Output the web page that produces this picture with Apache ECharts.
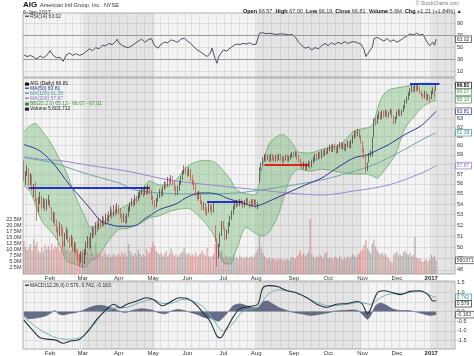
<!DOCTYPE html>
<html><head><meta charset="utf-8">
<script src="https://cdn.jsdelivr.net/npm/echarts@6/dist/echarts.min.js"></script>
<style>html,body{margin:0;padding:0;background:#fff}#c{width:474px;height:356px}</style>
</head><body><div id="c"></div>
<script>
// ---------------- DATA ----------------
const holidays = ['2016-01-18','2016-02-15','2016-03-25','2016-05-30','2016-07-04','2016-09-05','2016-11-24','2016-12-26','2017-01-02','2017-01-16'];
const monthNames = ['Jan','Feb','Mar','Apr','May','Jun','Jul','Aug','Sep','Oct','Nov','Dec'];
// daily candles [open, close, low, high], 2016-01-07 .. 2017-01-06
const candles = [
// Jan
[58.2,56.5,56.3,58.4],[56.4,57.0,55.9,57.3],[57.1,57.5,56.8,57.9],[57.4,56.2,55.8,57.6],[56.3,56.8,55.9,57.1],[56.6,55.7,55.3,56.9],
[55.2,55.6,54.7,56.0],[55.8,54.6,54.2,56.2],[54.2,53.5,52.4,54.6],[53.6,54.1,53.2,54.7],[54.4,54.7,54.0,55.2],[54.5,53.8,53.5,54.8],
[53.9,54.3,53.6,54.6],[54.2,53.6,53.3,54.5],[53.7,54.2,53.4,54.5],[54.3,54.5,53.9,54.9],
// Feb
[54.3,53.9,53.6,54.4],[53.6,52.6,52.4,53.7],[52.7,53.0,52.2,53.3],[53.0,52.3,51.9,53.2],[52.2,51.6,51.3,52.5],
[51.5,51.1,50.6,51.9],[51.3,51.9,51.0,52.3],[51.9,51.5,51.0,52.1],[51.6,50.3,50.0,51.8],[50.4,50.9,50.1,51.3],
[51.0,51.5,50.7,51.8],[51.4,50.6,50.4,51.6],[50.5,50.2,49.9,50.9],[50.3,50.8,50.0,51.1],[50.7,49.9,49.6,50.9],
[49.8,50.3,49.5,50.5],[50.2,49.6,49.3,50.4],[49.5,49.0,48.7,49.8],[49.1,48.7,48.3,49.4],[48.8,49.4,48.6,49.6],
// Mar
[49.3,48.6,48.2,49.5],[48.7,49.5,48.5,49.8],[49.6,50.2,49.3,50.5],[50.1,50.7,49.9,51.0],[50.6,50.0,49.8,50.9],
[50.1,51.0,49.9,51.3],[51.1,51.6,50.8,51.9],[51.5,51.2,50.9,51.8],[51.3,52.0,51.1,52.3],[52.1,51.7,51.4,52.4],
[51.8,52.4,51.6,52.7],[52.3,52.0,51.7,52.6],[52.1,52.6,51.9,52.9],[52.5,52.2,51.9,52.8],[52.3,52.8,52.0,53.1],
[52.7,52.5,52.2,53.0],[52.6,53.0,52.3,53.3],[53.1,53.4,52.8,53.8],[53.3,52.9,52.6,53.5],[53.0,53.6,52.8,53.9],
[53.5,53.2,52.9,53.8],[53.3,53.8,53.1,54.1],
// Apr
[53.6,53.5,53.0,53.9],[53.4,53.0,52.7,53.6],[52.9,52.5,52.2,53.1],[52.6,52.8,52.3,53.1],[52.7,52.3,52.1,52.9],
[52.4,52.9,52.2,53.1],[53.0,53.5,52.8,53.8],[53.6,53.9,53.3,54.2],[54.0,54.3,53.8,54.6],[54.3,54.0,53.7,54.5],
[54.1,54.6,53.9,54.9],[54.5,54.4,54.1,54.8],[54.5,54.9,54.3,55.2],[54.9,55.1,54.6,55.4],[55.2,55.4,54.9,55.7],
[55.3,55.0,54.7,55.5],[55.1,55.5,54.9,55.8],[55.4,55.2,54.9,55.6],[55.3,55.6,55.0,55.9],[55.5,55.3,55.0,55.8],
[55.2,54.6,54.4,55.4],
// May
[54.5,54.2,53.9,54.8],[54.1,53.8,53.5,54.4],[53.9,54.3,53.7,54.6],[54.4,54.8,54.2,55.0],[54.8,55.2,54.6,55.5],
[55.3,54.9,54.7,55.5],[55.0,55.6,54.8,55.8],[55.6,56.0,55.4,56.3],[56.0,55.8,55.5,56.2],[55.9,56.4,55.7,56.7],
[56.3,56.1,55.8,56.6],[56.2,56.6,56.0,56.9],[56.6,56.2,55.9,56.8],[56.1,55.6,55.3,56.3],[55.6,55.1,54.8,55.8],
[55.2,55.5,54.9,55.8],[55.5,56.0,55.3,56.3],[56.1,56.6,55.9,56.8],[56.6,57.2,56.4,57.4],[57.2,57.6,57.0,57.9],
[57.6,57.3,57.0,57.8],
// Jun
[57.2,57.0,56.7,57.5],[57.0,57.5,56.8,57.7],[57.4,56.6,56.3,57.5],[56.7,56.1,55.9,56.9],[56.2,55.7,55.4,56.4],
[55.8,55.0,54.8,56.0],[55.0,54.6,54.3,55.2],[54.7,55.0,54.5,55.3],[54.9,54.2,54.0,55.1],[54.2,53.7,53.4,54.4],
[53.8,53.9,53.4,54.2],[53.9,53.3,53.0,54.1],[53.4,53.3,52.9,53.7],[53.5,53.8,53.2,54.1],[53.8,53.6,53.3,54.0],
[53.7,53.2,53.0,53.9],[53.4,53.9,53.2,54.1],[51.5,50.9,50.4,52.0],[50.6,48.9,48.3,50.8],[49.3,50.0,49.0,50.3],
[50.3,51.0,50.0,51.3],[51.2,52.2,51.0,52.4],
// Jul
[52.1,52.0,51.6,52.4],[51.6,50.9,50.6,51.8],[51.0,51.3,50.7,51.6],[51.4,52.0,51.2,52.3],[52.1,52.6,51.9,52.9],
[52.7,53.2,52.5,53.4],[53.2,53.7,53.0,53.9],[53.8,53.9,53.5,54.2],[53.9,54.2,53.7,54.4],[54.2,54.0,53.8,54.4],
[54.0,54.3,53.8,54.5],[54.3,54.1,53.9,54.5],[54.1,53.8,53.6,54.3],[53.9,54.2,53.7,54.4],[54.2,54.4,54.0,54.6],
[54.4,54.1,53.9,54.6],[54.1,53.9,53.6,54.3],[54.0,54.3,53.8,54.5],[54.3,54.0,53.8,54.5],[54.1,54.3,53.9,54.5],
// Aug
[54.2,53.8,53.6,54.4],[53.8,53.9,53.5,54.2],[56.3,57.5,56.2,57.7],[57.6,57.9,57.3,58.2],[58.0,58.5,57.8,58.8],
[58.6,58.9,58.3,59.1],[58.9,58.6,58.3,59.1],[58.6,58.8,58.4,59.0],[58.8,58.5,58.2,59.0],[58.5,58.9,58.3,59.1],
[58.9,58.7,58.4,59.1],[58.7,58.5,58.2,58.9],[58.5,58.8,58.3,59.0],[58.8,58.6,58.3,59.0],[58.6,58.9,58.4,59.1],
[58.9,58.7,58.4,59.1],[58.7,58.4,58.1,58.9],[58.4,58.6,58.2,58.8],[58.6,58.8,58.4,59.0],[58.8,58.5,58.3,59.0],
[58.5,58.7,58.3,58.9],[58.7,58.9,58.5,59.1],[58.9,59.1,58.7,59.3],
// Sep
[59.1,59.0,58.7,59.3],[59.0,59.2,58.8,59.4],[59.2,58.7,58.5,59.3],[58.8,58.4,58.2,59.0],[58.4,58.0,57.7,58.6],
[58.0,57.8,57.5,58.2],[57.8,58.1,57.5,58.3],[58.1,57.6,57.4,58.2],[57.6,57.9,57.4,58.1],[57.9,58.2,57.7,58.4],
[58.2,57.8,57.5,58.3],[57.9,58.3,57.7,58.5],[58.3,58.5,58.1,58.8],[58.5,58.9,58.3,59.1],[58.9,58.6,58.4,59.1],
[58.7,59.1,58.5,59.3],[59.1,58.8,58.6,59.3],[58.8,59.3,58.6,59.5],[59.3,59.0,58.8,59.5],[59.0,59.4,58.9,59.6],
[59.4,59.3,59.0,59.6],
// Oct
[59.3,59.6,59.1,59.8],[59.6,59.9,59.4,60.1],[59.9,59.5,59.3,60.1],[59.5,60.0,59.3,60.2],[60.0,59.7,59.5,60.2],
[59.7,59.4,59.1,59.9],[59.4,59.9,59.2,60.1],[59.9,60.2,59.7,60.4],[60.2,59.8,59.6,60.3],[59.8,60.1,59.6,60.3],
[60.1,59.6,59.4,60.2],[59.6,60.0,59.4,60.2],[60.0,60.3,59.8,60.5],[60.3,59.9,59.7,60.4],[59.9,60.4,59.7,60.6],
[60.4,60.9,60.2,61.1],[60.9,61.4,60.7,61.6],[61.4,61.2,60.9,61.6],[61.2,61.6,61.0,61.8],[61.6,61.0,60.8,61.7],
[61.0,60.4,60.2,61.1],
// Nov
[60.4,59.5,59.2,60.5],[59.5,58.9,58.6,59.7],[59.0,57.5,57.1,59.1],[57.6,57.9,57.3,58.2],[58.4,59.0,58.2,59.2],
[59.0,59.3,58.8,59.5],[59.4,60.6,58.8,60.9],[61.0,62.8,60.9,63.0],[62.8,62.6,62.2,63.1],[62.6,63.2,62.4,63.4],
[63.2,63.5,62.9,63.8],[63.5,63.1,62.8,63.7],[63.1,63.7,62.9,63.9],[63.7,63.4,63.1,63.9],[63.4,63.8,63.2,64.0],
[63.8,63.3,63.0,63.9],[63.3,63.6,63.1,63.8],[63.6,63.9,63.4,64.1],[63.9,63.2,63.0,64.0],[63.2,62.6,62.3,63.3],
[62.6,63.0,62.4,63.2],
// Dec
[63.1,63.5,62.9,63.8],[63.5,63.9,63.3,64.1],[63.9,63.4,63.2,64.0],[63.5,63.8,63.3,64.0],[63.9,64.3,63.7,64.5],
[64.3,64.9,64.1,65.1],[64.9,65.3,64.7,65.5],[65.3,65.8,65.1,66.0],[65.8,66.2,65.6,66.5],[66.2,66.6,66.0,66.9],
[66.6,66.3,66.0,66.8],[66.3,66.8,66.1,67.0],[66.8,66.4,66.1,66.9],[66.4,66.6,66.2,66.9],[66.6,66.0,65.8,66.7],
[66.0,65.8,65.5,66.2],[65.8,65.5,65.2,65.9],[65.5,66.0,65.3,66.2],[66.0,65.3,65.0,66.1],[65.3,65.6,65.1,65.8],
[65.6,65.3,64.8,65.7],
// Jan 2017
[65.7,65.9,65.2,66.2],[66.0,66.3,65.8,66.6],[66.2,65.6,65.4,66.3],[66.57,66.81,66.19,67.00]
];
// daily volume, millions
const volume = [
13.5,11.2,9.8,10.5,12.3,9.6,14.2,11.8,13.1,9.4,8.7,10.9,9.3,12.0,10.2,11.5,
9.8,12.4,10.1,11.6,10.8,12.9,9.5,11.3,13.6,12.1,9.9,10.4,8.9,9.7,11.2,8.4,10.6,9.2,8.1,9.5,
10.3,9.1,8.6,9.8,8.2,11.4,9.0,7.8,12.6,8.5,7.9,8.8,7.4,9.6,8.1,7.2,8.4,6.9,7.7,8.6,7.1,7.8,
8.3,7.5,9.2,7.9,8.8,7.2,12.2,9.4,8.1,7.3,8.6,7.6,9.9,8.4,7.0,8.2,7.4,10.1,8.3,9.0,11.0,
13.2,11.6,9.4,8.5,7.9,8.8,7.6,8.3,9.5,7.2,8.0,10.4,8.7,7.4,8.1,7.0,7.8,8.6,9.2,10.8,8.4,
7.9,8.6,7.3,8.1,7.5,8.9,7.2,7.8,8.4,9.6,8.2,7.6,10.9,7.4,6.8,7.5,8.3,12.4,11.5,9.2,8.6,9.8,
6.9,7.8,7.2,6.6,7.4,6.8,7.9,6.5,7.1,6.3,7.6,6.7,7.0,6.4,7.3,6.6,6.9,7.5,6.8,7.7,
8.9,10.4,16.1,11.2,8.6,7.4,6.8,6.2,6.9,5.8,6.5,6.1,5.6,6.3,5.9,6.6,5.4,6.0,5.7,6.2,5.5,6.4,7.1,
6.8,6.2,7.4,8.3,9.6,7.8,8.5,7.3,8.1,9.2,22.5,8.0,7.1,6.6,7.5,6.9,7.8,7.2,6.5,8.4,9.1,
6.3,7.0,6.6,5.9,7.2,6.8,6.1,7.4,6.5,5.8,6.9,6.2,7.6,6.4,7.1,8.2,7.5,6.8,7.9,8.6,9.3,
10.2,11.8,13.9,10.5,9.6,8.4,12.6,14.1,11.3,9.7,8.6,7.9,8.8,7.5,8.2,7.1,6.6,5.2,4.8,7.9,8.5,
9.1,7.6,8.2,7.4,8.9,9.6,8.3,7.8,8.6,7.2,7.9,15.2,6.8,6.1,6.5,5.4,4.9,5.6,6.2,5.1,5.8,
7.8,6.9,7.4,5.6
];
// indicator readings: [trading-day index, value]
const ma50 = [[0,60.1],[9,59.5],[17,58.3],[28,55.9],[35,54.6],[41,53.5],[47,52.4],[52,52.1],[58,51.9],[64,51.9],[69,52.0],[73,52.5],[78,53.0],[83,53.5],[89,53.8],[94,54.1],[100,54.7],[108,55.1],[114,55.1],[120,54.9],[124,54.6],[134,54.1],[141,53.8],[150,54.3],[161,55.1],[172,55.9],[182,56.6],[192,57.7],[202,58.7],[210,59.0],[216,59.5],[223,60.1],[233,61.2],[243,62.2],[252,63.81]];
const ma100 = [[0,58.7],[17,58.2],[37,57.1],[58,56.1],[68,55.4],[83,55.1],[100,55.0],[114,55.0],[130,55.1],[141,55.3],[161,55.8],[182,56.4],[202,57.3],[213,57.9],[223,58.7],[233,59.6],[243,60.6],[252,61.39]];
const ma200 = [[0,58.8],[12,58.5],[22,58.4],[40,57.9],[63,57.3],[89,56.4],[114,55.9],[144,55.4],[161,55.1],[182,54.9],[202,55.3],[223,55.9],[243,57.1],[252,57.87]];
const bbIdx   = [0,4,7,11,16,21,26,31,37,41,45,50,53,58,63,68,73,77,83,89,94,100,106,112,117,122,126,130,136,141,146,150,155,158,163,168,175,182,193,202,209,213,216,219,223,227,233,239,243,246,252];
const bbUpper = [61.5,62.2,62.4,61.6,60.4,58.8,57.2,55.0,52.9,51.8,52.0,52.5,53.0,53.5,53.9,54.4,55.6,56.3,55.9,55.9,56.6,57.8,58.3,58.4,58.2,57.3,56.5,55.4,55.0,54.9,58.0,60.2,61.0,61.2,60.5,59.3,59.2,59.6,60.1,61.6,61.9,62.2,64.0,65.5,66.3,66.5,66.7,67.0,67.1,67.1,67.01];
const bbLower = [55.8,55.2,54.0,52.4,51.5,50.5,48.8,48.5,48.2,48.8,49.1,50.2,50.8,51.6,51.7,52.0,52.3,52.7,52.9,53.3,53.5,53.6,53.0,52.0,50.8,48.6,48.5,49.8,51.8,51.3,51.0,51.4,52.8,54.2,56.7,57.5,57.3,57.5,57.2,57.0,57.0,56.8,56.6,57.1,58.0,59.0,61.9,63.3,64.2,64.6,65.13];
const rsi = [[0,37],[2,34],[4,36],[6,33],[8,30],[10,35],[12,32],[14,36],[16,44],[18,36],[20,32],[22,33],[24,26],[26,37],[28,40],[30,36],[32,39],[34,36],[36,38],[38,42],[40,47],[42,44],[44,49],[46,47],[48,53],[50,52],[52,56],[54,54],[56,59],[57,63],[58,57],[60,53],[62,50],[64,49],[66,52],[68,56],[70,60],[72,63],[74,58],[76,62],[78,64],[80,52],[82,48],[84,55],[86,58],[88,57],[90,62],[92,60],[94,58],[96,63],[98,65],[100,60],[102,56],[104,50],[106,45],[108,42],[110,38],[112,34],[114,40],[115,48],[117,30],[118,23],[119,33],[120,38],[122,45],[124,43],[126,48],[128,52],[130,55],[132,54],[134,56],[136,55],[138,57],[140,54],[142,55],[144,73],[146,74],[148,72],[150,73],[154,71],[158,72],[162,70],[164,71],[166,66],[168,58],[170,52],[172,48],[174,50],[176,45],[178,49],[180,47],[182,52],[184,56],[186,52],[188,57],[190,54],[192,58],[194,55],[196,59],[198,56],[200,58],[202,59],[204,57],[206,55],[208,45],[209,34],[211,42],[213,50],[214,64],[216,66],[218,63],[220,60],[222,64],[224,59],[226,62],[228,58],[230,61],[232,65],[234,68],[236,72],[238,70],[240,73],[242,70],[244,71],[246,60],[248,52],[249,55],[250,58],[251,53],[252,63.02]];
const macd = [[0,-0.45],[6,-1.03],[10,-1.37],[16,-1.45],[20,-1.5],[24,-1.65],[28,-1.55],[34,-1.45],[39,-1.03],[45,-0.37],[51,0.15],[55,0.38],[59,0.2],[63,0.38],[69,0.55],[75,0.72],[79,0.63],[85,0.3],[89,0.47],[95,0.72],[100,0.68],[106,0.3],[110,-0.12],[114,-0.53],[118,-1.28],[120,-1.37],[124,-0.87],[128,-0.28],[132,0.15],[138,0.27],[143,0.38],[146,1.22],[150,1.35],[155,1.3],[161,1.08],[167,0.97],[173,0.72],[179,0.38],[185,0.22],[191,0.38],[198,0.42],[204,0.52],[207,0.38],[210,-0.12],[212,0.15],[216,0.97],[220,1.08],[226,0.97],[230,0.88],[236,1.05],[242,1.08],[247,0.88],[250,0.55],[252,0.579]];
const signal = [[0,-0.3],[10,-0.95],[20,-1.37],[28,-1.45],[36,-1.3],[42,-0.78],[48,-0.12],[55,0.18],[63,0.22],[71,0.47],[79,0.63],[85,0.42],[91,0.45],[97,0.63],[103,0.55],[110,0.22],[116,-0.45],[122,-1.03],[128,-0.6],[134,0.02],[143,0.22],[149,0.88],[155,1.13],[163,1.05],[171,0.8],[179,0.47],[187,0.3],[198,0.38],[205,0.47],[212,0.38],[218,0.72],[224,0.92],[232,0.95],[242,1.05],[250,0.78],[252,0.742]];
const hist = [[0,-0.2],[3,-0.38],[6,-0.35],[10,-0.3],[14,-0.2],[17,-0.05],[19,0.05],[21,-0.1],[24,-0.18],[28,-0.1],[32,-0.05],[36,0.05],[40,0.2],[44,0.3],[48,0.32],[51,0.25],[55,0.15],[59,0.0],[62,-0.05],[66,0.05],[72,0.15],[78,0.08],[83,-0.08],[86,-0.12],[90,0.02],[94,0.1],[98,0.05],[102,-0.05],[106,-0.15],[110,-0.3],[114,-0.35],[117,-0.45],[119,-0.5],[122,-0.3],[125,0.0],[128,0.3],[132,0.4],[136,0.3],[140,0.2],[143,0.2],[146,0.5],[149,0.55],[152,0.4],[156,0.2],[161,0.05],[165,-0.05],[170,-0.12],[175,-0.2],[180,-0.15],[185,-0.08],[190,0.02],[195,0.05],[200,0.08],[204,0.05],[207,-0.15],[210,-0.4],[212,-0.2],[215,0.3],[218,0.45],[221,0.35],[225,0.15],[230,0.05],[235,0.05],[240,-0.03],[244,-0.12],[248,-0.2],[252,-0.163]];
// trend lines drawn on chart: [startIndex, endIndex, price, color]
const trendLines = [[3,77,55.6,'#2332c8'],[112,134,54.2,'#2332c8'],[147,174,58.0,'#e02020'],[236,254,67.0,'#2332c8']];
// shaded background periods (index ranges)
const shadeBands = [[36,80],[142,206],[249,263]];
// axis tick values
const priceTicks = [48,49,50,51,52,53,54,55,56,57,58,59,60,61,62,63,64,65,66,67];
const priceLabels = [48,49,50,51,52,53,54,55,56,57,59,60,61,62,63];
const rsiTicks = [10,30,50,70,90];
const macdTicks = [-1.5,-1,-0.5,0,0.5,1,1.5];
// value tags on right axis: [axisIndex, value, text, color]
const tagList = [
 [0,63.02,'63.02','#333333'],
 [1,66.81,'66.81','#000000'],[1,66.07,'66.07','#4f8f4f'],[1,65.13,'65.13','#4f8f4f'],
 [1,63.81,'63.81','#28348f'],[1,61.39,'61.39','#3f8f8f'],[1,57.87,'57.87','#8b72c5'],
 [2,5.603712,'5603712','#333333'],
 [3,0.742,'0.742','#3f8f8f'],[3,0.579,'0.579','#222222'],[3,-0.163,'-0.163','#333333']
];

// ---------------- BUILD ----------------
const categories = [];
(function(){
  let d = Date.UTC(2016,0,7); const end = Date.UTC(2017,0,24);
  while (d <= end) {
    const dt = new Date(d), wd = dt.getUTCDay(), s = dt.toISOString().slice(0,10);
    if (wd!==0 && wd!==6 && holidays.indexOf(s)<0) categories.push(s);
    d += 86400000;
  }
})();
const wdOf = s => new Date(s+'T00:00:00Z').getUTCDay();
const monthStart = categories.map((s,i)=> i>0 && s.slice(5,7)!==categories[i-1].slice(5,7));
const weekStart = categories.map((s,i)=> i>0 && wdOf(s) < wdOf(categories[i-1]));
const L = v => Math.log10(v);
const FONT = 'Liberation Sans, Arial, sans-serif';

const G = {left:23, right:19};
const grids = [
  {left:G.left, right:G.right, top:13, height:64},
  {left:G.left, right:G.right, top:78, height:196},
  {left:G.left, right:G.right, top:213, height:61},
  {left:G.left, right:G.right, top:281, height:68}
].map((g,k)=>Object.assign({show:k!==2, backgroundColor:'#f3f3f3', borderColor:'#9a9a9a', borderWidth:0.8, outerBoundsMode:'none', containLabel:false}, g));

function xAxis(k, labels){
  return {type:'category', gridIndex:k, data:categories, boundaryGap:true,
    axisLine:{show:false}, axisTick:{show:false},
    axisLabel:{show:labels, interval:(i)=>monthStart[i], margin:1.5, fontSize:6, fontFamily:FONT, color:'#333',
      formatter:(v)=>{const m=+v.slice(5,7)-1; return m===0?'{y|'+v.slice(0,4)+'}':monthNames[m];},
      rich:{y:{fontWeight:'bold', fontSize:6, fontFamily:FONT, color:'#222'}}},
    splitLine:{show:k!==2, interval:(i)=>weekStart[i], lineStyle:{color:'#d2d2d2', width:0.6}}};
}
const ySplit = {show:true, lineStyle:{color:'#cdcdcd', width:0.6}};
const yLabel = {fontSize:5.5, fontFamily:FONT, color:'#333', margin:2};

const option = {
  animation:false,
  backgroundColor:'#ffffff',
  grid: grids,
  xAxis:[xAxis(0,false), xAxis(1,true), xAxis(2,false), xAxis(3,true)],
  yAxis:[
    {type:'value', gridIndex:0, position:'right', min:0, max:106.7, axisLine:{show:false},
     axisTick:{show:false, customValues:rsiTicks}, axisLabel:Object.assign({customValues:rsiTicks}, yLabel), splitLine:ySplit},
    {type:'value', gridIndex:1, position:'right', min:L(47.64), max:L(67.73), axisLine:{show:false},
     axisTick:{show:false, customValues:priceTicks.map(L)},
     axisLabel:Object.assign({customValues:priceLabels.map(L), formatter:(v)=>String(Math.round(Math.pow(10,v)))}, yLabel), splitLine:ySplit},
    {type:'value', gridIndex:2, position:'left', min:0, max:25, interval:2.5, axisLine:{show:false}, axisTick:{show:false},
     axisLabel:{fontSize:5.5, fontFamily:FONT, color:'#333', margin:1.5, formatter:(v)=>(v===0||v===25)?'':v.toFixed(1)+'M'}, splitLine:{show:false}},
    {type:'value', gridIndex:3, position:'right', min:-1.95, max:1.59, axisLine:{show:false},
     axisTick:{show:false, customValues:macdTicks},
     axisLabel:Object.assign({customValues:macdTicks, formatter:(v)=>v.toFixed(1)}, yLabel), splitLine:ySplit}
  ],
  series:[]
};
const S = option.series;
// background shading
[0,1,3].forEach(k=>S.push({type:'line', xAxisIndex:k, yAxisIndex:k, data:[], z:1, silent:true,
  markArea:{silent:true, itemStyle:{color:'rgba(0,0,0,0.06)'}, data:shadeBands.map(b=>[{xAxis:b[0]},{xAxis:b[1]}])}}));
// RSI
S.push({type:'line', xAxisIndex:0, yAxisIndex:0, data:rsi, symbol:'none', z:4, lineStyle:{color:'#4a4f62', width:1},
  markLine:{silent:true, symbol:'none', label:{show:false}, lineStyle:{color:'#8c8c8c', width:0.8, type:'solid'}, data:[{yAxis:70},{yAxis:30}]}});
// Bollinger band
S.push({type:'line', xAxisIndex:1, yAxisIndex:1, stack:'bb', smooth:0.3, symbol:'none', z:2,
  data:bbIdx.map((i,k)=>[i, L(bbLower[k])]), lineStyle:{color:'#5e9e5e', width:0.7}});
S.push({type:'line', xAxisIndex:1, yAxisIndex:1, stack:'bb', smooth:0.3, symbol:'none', z:2,
  data:bbIdx.map((i,k)=>[i, L(bbUpper[k])-L(bbLower[k])]), lineStyle:{color:'#5e9e5e', width:0.7},
  areaStyle:{color:'rgba(112,184,112,0.55)'}});
// moving averages
[[ma200,'#9a86d6'],[ma100,'#6aa6a6'],[ma50,'#2b3890']].forEach(([d,c])=>S.push({type:'line', xAxisIndex:1, yAxisIndex:1, smooth:0.3, symbol:'none', z:3,
  data:d.map(p=>[p[0],L(p[1])]), lineStyle:{color:c, width:1}}));
// volume
S.push({type:'bar', xAxisIndex:2, yAxisIndex:2, barWidth:1.3, z:3,
  data:volume.map((v,i)=>({value:[i,v], itemStyle:{color: candles[i][1]<candles[i][0] ? 'rgba(226,110,110,0.6)' : 'rgba(140,140,140,0.6)'}}))});
// candles
S.push({type:'candlestick', xAxisIndex:1, yAxisIndex:1, z:5, barWidth:1.2,
  data:candles.map(c=>c.map(L)),
  itemStyle:{color:'#222222', color0:'#d62a2a', borderColor:'#222222', borderColor0:'#d62a2a', borderWidth:0.6},
  markLine:{silent:true, symbol:'none', label:{show:false},
    data:trendLines.map(t=>[{coord:[t[0],L(t[2])], lineStyle:{color:t[3], width:2, type:'solid'}},{coord:[t[1],L(t[2])]}])}});
// MACD
S.push({type:'line', xAxisIndex:3, yAxisIndex:3, data:hist, symbol:'none', smooth:0.2, z:2,
  lineStyle:{color:'#4f5872', width:0.6}, areaStyle:{color:'#5d6680', opacity:0.95}});
S.push({type:'line', xAxisIndex:3, yAxisIndex:3, data:signal, symbol:'none', smooth:0.3, z:3, lineStyle:{color:'#6fb3b3', width:1}});
S.push({type:'line', xAxisIndex:3, yAxisIndex:3, data:macd, symbol:'none', smooth:0.3, z:4, lineStyle:{color:'#2a2e3e', width:1.1}});

const chart = echarts.init(document.getElementById('c'), null, {renderer:'canvas', width:474, height:356});
chart.setOption(option);

// ---------------- TEXT / TAGS ----------------
const gfx = [];
function txt(x,y,text,opt){ opt=opt||{};
  gfx.push({type:'text', x:x, y:y, z:100, silent:true, style:Object.assign({text:text, fontSize:opt.size||5.5, fontFamily:FONT,
    fontWeight:opt.bold?'bold':'normal', fill:opt.color||'#222', align:opt.align||'left', textAlign:opt.align||'left',
    verticalAlign:'top', textVerticalAlign:'top'}, opt.rich?{rich:opt.rich}:{})});
}
txt(23,1,'AIG',{size:8,bold:true,color:'#111'});
txt(40,2.5,'American Intl Group, Inc.  NYSE',{size:5.5,color:'#333'});
txt(23,9,'6-Jan-2017',{size:5.5,color:'#333'});
txt(459,1,'\u00a9 StockCharts.com',{size:5,color:'#777',align:'right'});
txt(462,8,'{b|Open} 66.57  {b|High} 67.00  {b|Low} 66.19  {b|Close} 66.81  {b|Volume} 5.6M  {b|Chg} +1.21 (+1.84%) \u25b2',
  {size:5.5,color:'#333',align:'right',rich:{b:{fontWeight:'bold',fontSize:5.5,fontFamily:FONT,fill:'#111',color:'#111'}}});
// panel legends
function leg(y,text,color,icon){
  gfx.push({type:'rect', z:100, silent:true, shape:{x:25,y:y+1.6,width:4,height:icon==='box'?3:1.2}, style:{fill:color}});
  txt(30,y,text,{size:5,color:color});
}
leg(14,'RSI(14) 63.02','#333');
leg(81,'AIG (Daily) 66.81','#111','box');
leg(86,'MA(50) 63.81','#2b3890');
leg(91,'MA(100) 61.39','#4f9a9a');
leg(96,'MA(200) 57.87','#8b72c5');
leg(101,'BB(20,2.0) 65.13 - 66.07 - 67.01','#3f8a3f','box');
leg(106,'Volume 5,603,712','#222','box');
leg(283,'MACD(12,26,9) 0.579, 0.742, -0.163','#222');
// right-axis value tags (positions from the axes' own scales)
const lastY = {};
tagList.forEach(t=>{
  const val = t[0]===1 ? L(t[1]) : t[1];
  let y = chart.convertToPixel({yAxisIndex:t[0]}, val);
  const key = t[0]===2 ? 1 : t[0];
  if (lastY[key]!==undefined && y < lastY[key]+6.5) y = lastY[key]+6.5;
  lastY[key] = y;
  const w = t[2].length*2.8+2;
  gfx.push({type:'rect', z:110, silent:true, shape:{x:455.5,y:y-3.3,width:w,height:6.6},
    style:{fill:'#ffffff', stroke:t[3], lineWidth:0.7}});
  gfx.push({type:'text', z:111, silent:true, x:456.8, y:y, style:{text:t[2], fontSize:5, fontFamily:FONT,
    fontWeight:t[2]==='66.81'?'bold':'normal', fill:t[3], align:'left', textAlign:'left', verticalAlign:'middle', textVerticalAlign:'middle'}});
});
chart.setOption({graphic:gfx});
</script>
</body></html>
